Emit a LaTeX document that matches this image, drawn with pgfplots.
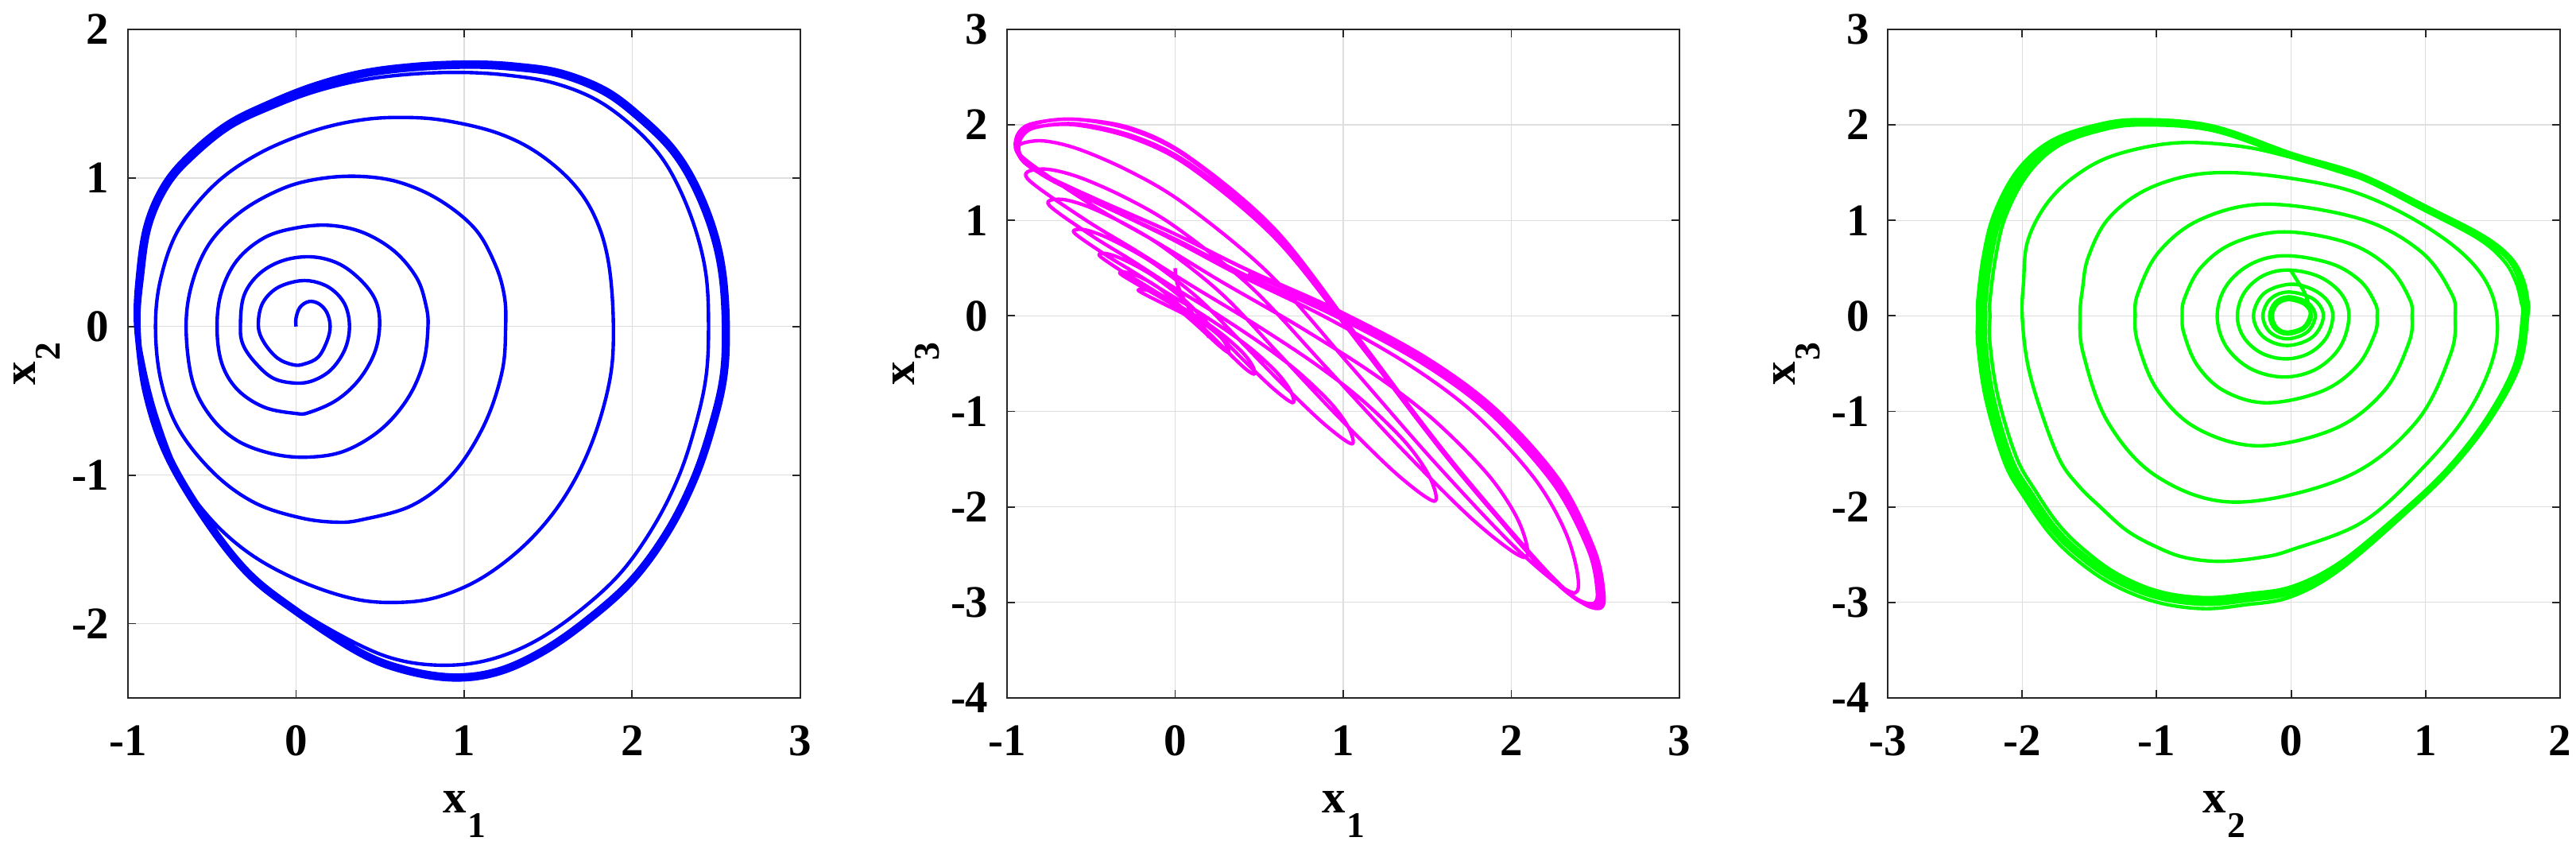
\documentclass[border=0pt]{standalone}
\usepackage{fontspec}
\setmainfont{Liberation Serif}
\usepackage{pgfplots}
\pgfplotsset{compat=1.18}

\definecolor{blu}{RGB}{0,0,255}
\definecolor{mag}{RGB}{255,0,255}
\definecolor{grn}{RGB}{0,255,0}

\newcommand{\lab}[2]{#1\kern0.4pt\raisebox{-8.1pt}{\fontsize{12}{12}\selectfont #2}}

\pgfplotsset{
  phase/.style={
    anchor=south west, scale only axis,
    width=222.8pt, height=221.5pt,
    enlargelimits=false,
    grid=major,
    grid style={color=black!13, line width=0.35pt},
    axis line style={black!85, line width=0.5pt},
    tick style={black!85, line width=0.5pt},
    major tick length=2.6pt,
    tick align=inside,
    tick label style={font=\fontsize{15}{15}\selectfont\bfseries},
    /pgf/number format/assume math mode=true,
    xticklabel style={inner sep=0pt, yshift=-8.9pt},
    yticklabel style={inner sep=0pt, xshift=-6pt},
    label style={font=\fontsize{15.5}{15.5}\selectfont\bfseries},
    xlabel style={at={(axis description cs:0.5,-0.1391)}, anchor=north, inner sep=0pt},
    ylabel style={at={(axis description cs:-0.1702,0.5)}, anchor=north, inner sep=0pt},
  },
  traj/.style={line width=1.15pt, smooth, line join=round},
}

\begin{document}
\begin{tikzpicture}
\useasboundingbox (0pt,0pt) rectangle (853.61pt,279.97pt);

% ---- x1 vs x2 -----------------------------------------------------------
\begin{axis}[phase, at={(42.40pt,48.73pt)},
    xmin=-1, xmax=3, ymin=-2.5, ymax=2,
    xtick={-1,0,1,2,3}, ytick={-2,-1,0,1,2},
    xlabel={\lab{x}{1}}, ylabel={\lab{x}{2}}]
\addplot[traj, blu, tension=0.6] coordinates {
 (0,0) (0,0.057) (0.024,0.13) (0.077,0.168) (0.136,0.153) (0.184,0.093) (0.203,0)
 (0.184,-0.099) (0.131,-0.207) (0.05,-0.252) (-0.016,-0.258) (-0.11,-0.213) (-0.19,-0.108)
 (-0.224,0) (-0.203,0.147) (-0.123,0.252) (-0.003,0.303) (0.104,0.303) (0.211,0.252)
 (0.291,0.147) (0.318,0) (0.291,-0.153) (0.211,-0.288) (0.104,-0.363) (-0.003,-0.381)
 (-0.136,-0.348) (-0.243,-0.243) (-0.315,-0.123) (-0.331,0) (-0.31,0.207) (-0.216,0.357)
 (-0.069,0.447) (0.104,0.468) (0.264,0.417) (0.398,0.297) (0.478,0.162) (0.497,0)
 (0.465,-0.183) (0.371,-0.363) (0.238,-0.498) (0.077,-0.579) (-0.003,-0.585) (-0.19,-0.543)
 (-0.35,-0.423) (-0.443,-0.243) (-0.47,0) (-0.443,0.237) (-0.35,0.447) (-0.19,0.597)
 (-0.003,0.663) (0.198,0.681) (0.398,0.633) (0.585,0.507) (0.718,0.327) (0.772,0.147)
 (0.785,0) (0.758,-0.243) (0.665,-0.483) (0.505,-0.693) (0.291,-0.837) (0.077,-0.879)
 (-0.136,-0.858) (-0.35,-0.768) (-0.51,-0.603) (-0.617,-0.363) (-0.654,0) (-0.617,0.297)
 (-0.51,0.567) (-0.323,0.777) (-0.083,0.927) (0.131,0.993) (0.371,1.011) (0.611,0.972)
 (0.852,0.852) (1.065,0.657) (1.185,0.417) (1.239,0.207) (1.247,0) (1.226,-0.303)
 (1.119,-0.663) (0.932,-0.993) (0.692,-1.203) (0.398,-1.299) (0.238,-1.317) (0.024,-1.287)
 (-0.243,-1.188) (-0.483,-0.993) (-0.697,-0.693) (-0.804,-0.363) (-0.836,0) (-0.804,0.327)
 (-0.697,0.657) (-0.483,0.957) (-0.216,1.167) (0.104,1.317) (0.398,1.392) (0.665,1.407)
 (0.905,1.383) (1.199,1.302) (1.439,1.167) (1.653,0.957) (1.786,0.717) (1.861,0.417)
 (1.888,0) (1.866,-0.363) (1.76,-0.783) (1.6,-1.143) (1.386,-1.443) (1.119,-1.683)
 (0.852,-1.818) (0.611,-1.857) (0.344,-1.833) (0.024,-1.713) (-0.27,-1.533) (-0.51,-1.293)
 (-0.697,-0.993) (-0.83,-0.603) (-0.91,-0.243) (-0.937,0)
 (-0.92,0.357) (-0.87,0.687) (-0.76,0.95) (-0.6,1.15) (-0.39,1.34) (-0.15,1.47) (0.11,1.58)
 (0.4,1.66) (0.7,1.70) (1.0,1.71) (1.27,1.69) (1.53,1.64) (1.78,1.53) (1.99,1.36) (2.16,1.16)
 (2.28,0.93) (2.38,0.64) (2.44,0.34) (2.454,0) (2.44,-0.33) (2.38,-0.65) (2.28,-1.0)
 (2.13,-1.34) (1.93,-1.66) (1.68,-1.92) (1.42,-2.12) (1.16,-2.24) (0.905,-2.28) (0.63,-2.25)
 (0.37,-2.14) (0.0,-1.90) (-0.29,-1.64) (-0.56,-1.26) (-0.77,-0.85) (-0.89,-0.43) (-0.935,0)
 (-0.913,0.350) (-0.867,0.677) (-0.761,0.944) (-0.603,1.152) (-0.391,1.345) (-0.153,1.479)
 (0.111,1.598) (0.402,1.687) (0.719,1.731) (1.037,1.746) (1.301,1.731) (1.565,1.687)
 (1.830,1.568) (2.040,1.390) (2.226,1.182) (2.358,0.944) (2.464,0.647) (2.523,0.350)
 (2.543,-0.003) (2.530,-0.333) (2.464,-0.659) (2.358,-1.016) (2.200,-1.372) (1.988,-1.699)
 (1.724,-1.966) (1.459,-2.174) (1.195,-2.308) (0.931,-2.346) (0.640,-2.293) (0.375,-2.174)
 (0.008,-1.904) (-0.285,-1.639) (-0.549,-1.253) (-0.761,-0.838) (-0.880,-0.422)
 (-0.943,0) (-0.93,0.357) (-0.884,0.687) (-0.777,0.957) (-0.617,1.167) (-0.403,1.362)
 (-0.163,1.497) (0.104,1.617) (0.398,1.707) (0.718,1.752) (1.039,1.767) (1.306,1.752)
 (1.573,1.707) (1.84,1.587) (2.053,1.407) (2.24,1.197) (2.374,0.957) (2.481,0.657)
 (2.54,0.357) (2.561,0) (2.547,-0.333) (2.481,-0.663) (2.374,-1.023) (2.214,-1.383)
 (2.0,-1.713) (1.733,-1.983) (1.466,-2.193) (1.199,-2.328) (0.932,-2.367) (0.638,-2.313)
 (0.371,-2.193) (0,-1.92) (-0.296,-1.653) (-0.563,-1.263) (-0.777,-0.843) (-0.897,-0.423)
 (-0.954,0.002) (-0.941,0.361) (-0.894,0.693) (-0.787,0.965) (-0.626,1.176) (-0.410,1.372)
 (-0.169,1.508) (0.100,1.629) (0.395,1.719) (0.717,1.765) (1.040,1.780) (1.309,1.765)
 (1.577,1.719) (1.846,1.599) (2.060,1.417) (2.248,1.206) (2.383,0.965) (2.491,0.663)
 (2.550,0.361) (2.571,0.002) (2.557,-0.333) (2.491,-0.665) (2.383,-1.027) (2.222,-1.389)
 (2.007,-1.721) (1.738,-1.993) (1.470,-2.204) (1.201,-2.340) (0.933,-2.379) (0.637,-2.325)
 (0.368,-2.204) (-0.005,-1.930) (-0.303,-1.661) (-0.571,-1.269) (-0.787,-0.846)
 (-0.907,-0.424) (-0.954,0.002)
};
\end{axis}

% ---- x1 vs x3 -----------------------------------------------------------
\begin{axis}[phase, at={(333.70pt,48.73pt)},
    xmin=-1, xmax=3, ymin=-4, ymax=3,
    xtick={-1,0,1,2,3}, ytick={-4,-3,-2,-1,0,1,2,3},
    xlabel={\lab{x}{1}}, ylabel={\lab{x}{3}}]
\addplot[traj, mag, tension=0.55] coordinates {
 (0,0.50) (0.005,0.40) (0.02,0.30) (0.06,0.15) (0.12,-0.02) (0.17,-0.14) (0.20,-0.22)
 (0.171,-0.126) (0.074,-0.002) (-0.052,0.112) (-0.161,0.208) (-0.22,0.27)
 (-0.166,0.268) (-0.058,0.178) (0.104,-0.058) (0.266,-0.318) (0.32,-0.38)
 (0.275,-0.230) (0.125,-0.022) (-0.07,0.177) (-0.239,0.345) (-0.33,0.45)
 (-0.25,0.438) (-0.09,0.284) (0.15,-0.094) (0.39,-0.509) (0.47,-0.61)
 (0.461,-0.524) (0.406,-0.392) (0.304,-0.227) (0.194,-0.083) (0.056,0.072) (-0.082,0.217)
 (-0.202,0.347) (-0.321,0.472) (-0.45,0.63)
 (-0.416,0.654) (-0.335,0.611) (-0.22,0.512) (-0.105,0.387) (0.068,0.147) (0.24,-0.162)
 (0.413,-0.473) (0.585,-0.763) (0.70,-0.91)
 (0.687,-0.788) (0.609,-0.600) (0.466,-0.364) (0.31,-0.158) (0.115,0.067) (-0.08,0.275)
 (-0.249,0.462) (-0.418,0.644) (-0.60,0.87)
 (-0.55,0.905) (-0.435,0.843) (-0.27,0.700) (-0.105,0.521) (0.143,0.176) (0.39,-0.266)
 (0.638,-0.714) (0.885,-1.129) (1.05,-1.34)
 (1.032,-1.171) (0.924,-0.909) (0.726,-0.577) (0.51,-0.288) (0.24,0.028) (-0.03,0.322)
 (-0.264,0.587) (-0.498,0.842) (-0.75,1.16)
 (-0.681,1.221) (-0.521,1.146) (-0.292,0.956) (-0.063,0.709) (0.281,0.225) (0.624,-0.410)
 (0.968,-1.052) (1.311,-1.645) (1.54,-1.94)
 (1.516,-1.693) (1.371,-1.325) (1.104,-0.869) (0.814,-0.479) (0.451,-0.060) (0.088,0.328)
 (-0.227,0.677) (-0.541,1.014) (-0.88,1.44)
 (-0.791,1.538) (-0.584,1.460) (-0.288,1.232) (0.008,0.924) (0.452,0.301) (0.896,-0.534)
 (1.34,-1.378) (1.784,-2.154) (2.08,-2.53)
 (2.05,-2.175) (1.869,-1.678) (1.538,-1.088) (1.177,-0.603) (0.726,-0.099) (0.274,0.360)
 (-0.117,0.779) (-0.509,1.176) (-0.93,1.70)
 (-0.831,1.833) (-0.599,1.761) (-0.268,1.512) (0.063,1.163) (0.56,0.440) (1.056,-0.550)
 (1.553,-1.550) (2.049,-2.467) (2.38,-2.90)
 (2.347,-2.376) (2.148,-1.726) (1.782,-1.025) (1.384,-0.504) (0.886,-0.005) (0.388,0.422)
 (-0.044,0.825) (-0.475,1.195) (-0.774,1.463) (-0.90,1.61) (-0.94,1.74)
 (-0.92,1.89) (-0.837,1.975) (-0.595,2.0) (-0.25,1.86) (0.095,1.55) (0.613,0.78)
 (1.13,-0.37) (1.648,-1.55) (2.165,-2.602) (2.39,-2.97) (2.51,-3.04)
 (2.53,-2.89) (2.475,-2.43) (2.268,-1.70) (1.887,-0.95) (1.472,-0.42) (0.953,0.07)
 (0.434,0.48) (-0.016,0.87) (-0.466,1.215) (-0.777,1.468) (-0.90,1.62) (-0.95,1.76)
 (-0.93,1.91) (-0.847,2.01) (-0.606,2.06) (-0.262,1.95) (0.082,1.65) (0.598,0.88)
 (1.114,-0.30) (1.63,-1.50) (2.146,-2.574) (2.37,-2.94) (2.49,-3.01)
 (2.51,-2.86) (2.456,-2.44) (2.251,-1.76) (1.874,-1.02) (1.464,-0.49) (0.951,0.0)
 (0.438,0.41) (-0.007,0.81) (-0.451,1.17) (-0.759,1.443) (-0.88,1.60) (-0.93,1.73)
 (-0.91,1.88) (-0.826,1.975) (-0.584,2.01) (-0.238,1.875) (0.108,1.565) (0.627,0.795)
 (1.146,-0.375) (1.665,-1.56) (2.184,-2.622) (2.41,-2.99) (2.53,-3.06)
 (2.55,-2.90) (2.495,-2.45) (2.286,-1.72) (1.904,-0.97) (1.486,-0.43) (0.964,0.06)
 (0.442,0.47) (-0.010,0.865) (-0.463,1.218) (-0.776,1.476) (-0.90,1.63) (-0.95,1.77)
 (-0.93,1.92) (-0.847,2.015) (-0.605,2.06) (-0.26,1.965) (0.085,1.66) (0.603,0.89)
 (1.12,-0.30) (1.638,-1.51) (2.155,-2.591) (2.38,-2.96) (2.50,-3.03)
 (2.52,-2.88) (2.466,-2.436) (2.259,-1.73) (1.881,-0.98) (1.468,-0.45) (0.952,0.04)
 (0.436,0.45)
};
\end{axis}

% ---- x2 vs x3 -----------------------------------------------------------
\begin{axis}[phase, at={(625.53pt,48.73pt)},
    xmin=-3, xmax=2, ymin=-4, ymax=3,
    xtick={-3,-2,-1,0,1,2}, ytick={-4,-3,-2,-1,0,1,2,3},
    xlabel={\lab{x}{2}}, ylabel={\lab{x}{3}}]
\addplot[traj, grn, tension=0.6] coordinates {
 (0,0.47) (0.04,0.38) (0.09,0.27) (0.12,0.17) (0.135,0.08) (0.14,0)
 (0.090,-0.12) (-0.03,-0.17) (-0.108,-0.12) (-0.14,0) (-0.105,0.12) (-0.02,0.17)
 (0.10,0.12) (0.15,0) (0.097,-0.134) (-0.03,-0.19) (-0.122,-0.134) (-0.16,0)
 (-0.119,0.141) (-0.02,0.20) (0.121,0.141) (0.18,0) (0.118,-0.17) (-0.03,-0.24)
 (-0.157,-0.17) (-0.21,0) (-0.154,0.177) (-0.02,0.25) (0.164,0.177) (0.24,0)
 (0.161,-0.219) (-0.03,-0.31) (-0.207,-0.219) (-0.28,0) (-0.204,0.233) (-0.02,0.33)
 (0.145,0.286) (0.266,0.165) (0.31,0)
 (0.263,-0.225) (0.135,-0.39) (-0.04,-0.45)
 (-0.22,-0.39) (-0.352,-0.225) (-0.40,0)
 (-0.35,0.24) (-0.215,0.416) (-0.03,0.48)
 (0.20,0.416) (0.368,0.24) (0.43,0)
 (0.366,-0.32) (0.19,-0.554) (-0.05,-0.64)
 (-0.30,-0.554) (-0.483,-0.32) (-0.55,0)
 (-0.482,0.315) (-0.295,0.546) (-0.04,0.63)
 (0.30,0.546) (0.517,0.362) (0.625,0.131) (0.64,0)
 (0.622,-0.189) (0.492,-0.522) (0.23,-0.788) (-0.18,-0.91)
 (-0.495,-0.788) (-0.696,-0.522) (-0.796,-0.189) (-0.81,0)
 (-0.793,0.183) (-0.672,0.505) (-0.43,0.762) (-0.05,0.88)
 (0.425,0.762) (0.728,0.505) (0.879,0.183) (0.90,0)
 (0.875,-0.283) (0.694,-0.781) (0.33,-1.178) (-0.24,-1.36)
 (-0.70,-1.178) (-0.993,-0.781) (-1.14,-0.283) (-1.16,0)
 (-1.138,0.243) (-0.983,0.671) (-0.67,1.013) (-0.18,1.17)
 (0.52,1.013) (0.967,0.671) (1.189,0.243) (1.22,0)
 (1.184,-0.406) (0.925,-1.119) (0.405,-1.689) (-0.41,-1.95)
 (-0.99,-1.689) (-1.36,-1.119) (-1.544,-0.406) (-1.57,0)
 (-1.55,0.30) (-1.51,0.61) (-1.37,1.0) (-1.12,1.29) (-0.79,1.46) (-0.44,1.50)
 (0,1.44) (0.44,1.31) (0.85,1.06) (1.22,0.72) (1.44,0.38) (1.53,0)
 (1.50,-0.45) (1.32,-1.0) (1.0,-1.56) (0.54,-2.15) (0,-2.45) (-0.23,-2.53) (-0.53,-2.57)
 (-0.79,-2.53) (-1.0,-2.42) (-1.22,-2.25) (-1.42,-2.0) (-1.58,-1.78) (-1.72,-1.51)
 (-1.86,-1.0) (-1.96,-0.5) (-2.0,0)
 (-1.99,0.35) (-1.96,0.78) (-1.82,1.17) (-1.61,1.46) (-1.32,1.68) (-0.87,1.81)
 (-0.4,1.78) (0,1.66) (0.5,1.45) (1.0,1.10) (1.39,0.81) (1.58,0.58) (1.67,0.36) (1.71,0.15) (1.72,0)
 (1.661,-0.516) (1.452,-1.073) (1.173,-1.579) (0.843,-2.026) (0.355,-2.593) (-0.003,-2.861)
 (-0.332,-2.941) (-0.65,-2.98)
 (-0.992,-2.911) (-1.304,-2.733) (-1.557,-2.482) (-1.752,-2.214) (-1.928,-1.857)
 (-2.076,-1.499) (-2.212,-0.855) (-2.27,-0.289) (-2.27,0)
 (-2.27,0.156) (-2.231,0.596) (-2.155,1.034) (-1.989,1.474) (-1.758,1.776) (-1.438,1.942) (-1.12,2.0)
 (-0.588,1.942) (0.007,1.658) (0.51,1.444) (1.014,1.102) (1.408,0.82) (1.608,0.604)
 (1.70,0.39) (1.74,0.16) (1.74,0)
 (1.680,-0.522) (1.470,-1.087) (1.188,-1.601) (0.856,-2.054) (0.363,-2.627) (0.002,-2.899)
 (-0.330,-2.981) (-0.65,-3.02)
 (-1.000,-2.951) (-1.321,-2.769) (-1.580,-2.516) (-1.779,-2.244) (-1.960,-1.881)
 (-2.111,-1.519) (-2.250,-0.867) (-2.31,-0.293) (-2.31,0)
 (-2.31,0.159) (-2.27,0.608) (-2.191,1.055) (-2.020,1.503) (-1.780,1.812) (-1.450,1.981) (-1.12,2.04)
 (-0.586,1.981) (0.011,1.691) (0.516,1.473) (1.021,1.124) (1.417,0.836) (1.618,0.616)
 (1.710,0.398) (1.75,0.163) (1.75,0)
 (1.691,-0.519) (1.481,-1.08) (1.200,-1.59) (0.869,-2.04) (0.379,-2.61) (0.020,-2.88)
 (-0.311,-2.961) (-0.63,-3.00)
 (-0.980,-2.931) (-1.301,-2.751) (-1.560,-2.499) (-1.759,-2.229) (-1.940,-1.869)
 (-2.091,-1.509) (-2.230,-0.861) (-2.29,-0.291) (-2.29,0)
 (-2.29,0.158) (-2.25,0.605) (-2.171,1.050) (-2.0,1.496) (-1.760,1.803) (-1.430,1.971) (-1.10,2.03)
 (-0.574,1.971) (0.015,1.683) (0.513,1.466) (1.011,1.119) (1.402,0.832) (1.600,0.613)
 (1.690,0.396) (1.73,0.162) (1.73,0)
 (1.670,-0.528) (1.460,-1.098) (1.178,-1.617) (0.846,-2.074) (0.353,-2.667) (-0.008,-2.944)
 (-0.340,-3.025) (-0.66,-3.065)
 (-1.005,-2.995) (-1.331,-2.81) (-1.595,-2.555) (-1.795,-2.28) (-1.98,-1.91)
 (-2.13,-1.54) (-2.27,-0.878) (-2.33,-0.298) (-2.33,0)
 (-2.33,0.16) (-2.29,0.615) (-2.21,1.065) (-2.04,1.515) (-1.795,1.825) (-1.46,1.995) (-1.13,2.055)
 (-0.592,1.991) (0.009,1.699) (0.517,1.480) (1.026,1.130) (1.425,0.841) (1.627,0.619)
 (1.720,0.40) (1.76,0.164) (1.76,0)
 (1.70,-0.514) (1.489,-1.069) (1.206,-1.574) (0.872,-2.01) (0.378,-2.567) (0.015,-2.83)
 (-0.318,-2.91) (-0.64,-2.95)
 (-0.98,-2.886) (-1.287,-2.706) (-1.533,-2.457) (-1.726,-2.19) (-1.90,-1.835)
 (-2.043,-1.48) (-2.18,-0.846) (-2.24,-0.284) (-2.24,0)
 (-2.24,0.157) (-2.20,0.595) (-2.127,1.03) (-1.965,1.47) (-1.739,1.773) (-1.425,1.94) (-1.11,2.0)
 (-0.58,1.945) (0.01,1.665) (0.51,1.445)
};
\end{axis}
\end{tikzpicture}
\end{document}
